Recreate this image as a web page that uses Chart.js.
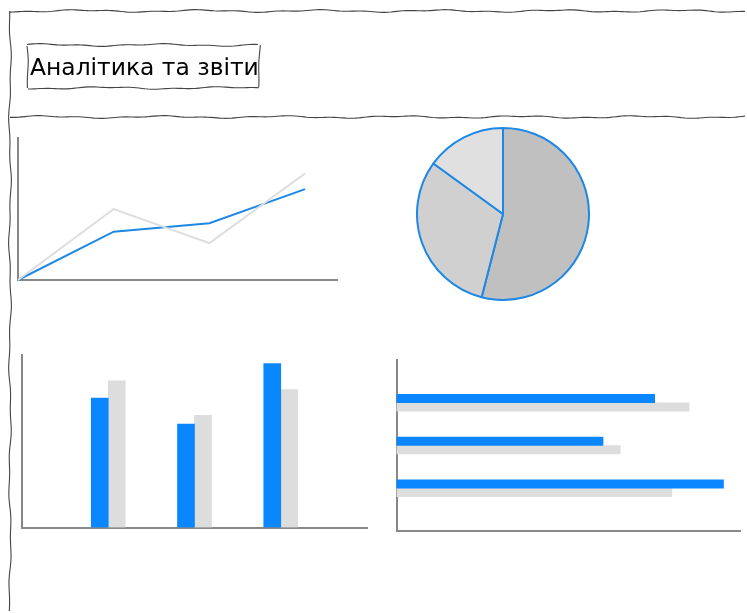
<!DOCTYPE html>
<html lang="uk">
<head>
<meta charset="utf-8">
<title>Аналітика та звіти</title>
<script src="https://cdn.jsdelivr.net/npm/chart.js@4"></script>
<style>
    html, body { margin: 0; padding: 0; background: #fff; overflow: hidden; }
    body { width: 747px; height: 613px; position: relative; }
    canvas { position: absolute; }
    #frame { left: 0; top: 0; pointer-events: none; }
    #title {
        position: absolute;
        left: 30px;
        top: 53px;
        font: 23.4px "DejaVu Sans", sans-serif;
        color: #000;
        white-space: nowrap;
    }
</style>
</head>
<body>
<canvas id="frame" width="747" height="613"></canvas>
<div id="title">Аналітика та звіти</div>
<canvas id="lineChart" width="340" height="160" style="left:8px;top:128px"></canvas>
<canvas id="pieChart" width="174" height="174" style="left:416px;top:127px"></canvas>
<canvas id="barChart" width="365" height="192" style="left:12px;top:345px"></canvas>
<canvas id="hbarChart" width="361" height="191" style="left:386px;top:350px"></canvas>

<script>
// ==================== Data ====================
const lineX = [0, 30, 60, 90];
const lineBlue = [0, 34, 40, 64];
const lineGray = [0, 50, 26, 75];

const pieValues = [54, 31, 15];
const pieColors = ["#c0c0c0", "#d0d0d0", "#e0e0e0"];

const categories = ["A", "B", "C"];
const barBlue = [75, 60, 95];
const barGray = [85, 65, 80];

const BLUE_LINE = "#1e88e5";
const BLUE_BAR = "#0a86ff";
const GRAY = "#dddddd";
const AXIS = "#888888";

// ==================== Sketchy frame ====================
const frame = document.getElementById("frame").getContext("2d");
frame.strokeStyle = "#444";
frame.lineWidth = 1.1;

function wobble(t, seed) {
    return 0.9 * Math.sin(t / 19 + seed) + 0.5 * Math.sin(t / 6.7 + seed * 2.3);
}

function sketchLine(x1, y1, x2, y2, seed) {
    const len = Math.hypot(x2 - x1, y2 - y1);
    const nx = -(y2 - y1) / len, ny = (x2 - x1) / len;
    frame.beginPath();
    for (let t = 0; t <= len; t += 3) {
        const w = wobble(t, seed);
        const x = x1 + (x2 - x1) * t / len + nx * w;
        const y = y1 + (y2 - y1) * t / len + ny * w;
        if (t === 0) frame.moveTo(x, y); else frame.lineTo(x, y);
    }
    frame.stroke();
}

sketchLine(10, 11, 747, 11, 1);
sketchLine(10, 11, 10, 613, 2);
sketchLine(10, 117, 747, 117, 3);
// title box
sketchLine(27, 45, 259, 45, 4);
sketchLine(259, 45, 259, 88, 5);
sketchLine(259, 88, 27, 88, 6);
sketchLine(27, 88, 27, 45, 7);

// ==================== Shared options ====================
const plainAxis = (extra) => Object.assign({
    display: true,
    offset: false,
    grid: { display: false, drawTicks: false, offset: false },
    ticks: { display: false },
    border: { display: true, color: AXIS, width: 2 }
}, extra);

const basePlugins = { legend: { display: false }, tooltip: { enabled: false } };

// ==================== Line chart ====================
new Chart(document.getElementById("lineChart"), {
    type: "line",
    data: {
        datasets: [
            {
                data: lineX.map((x, i) => ({ x: x, y: lineGray[i] })),
                borderColor: GRAY,
                borderWidth: 2,
                pointRadius: 0,
                tension: 0
            },
            {
                data: lineX.map((x, i) => ({ x: x, y: lineBlue[i] })),
                borderColor: BLUE_LINE,
                borderWidth: 2,
                pointRadius: 0,
                tension: 0
            }
        ]
    },
    options: {
        responsive: false,
        animation: false,
        clip: false,
        layout: { autoPadding: false, padding: { left: 10, top: 10, right: 11, bottom: 8 } },
        plugins: basePlugins,
        scales: {
            x: plainAxis({ type: "linear", min: 0, max: 100 }),
            y: plainAxis({ type: "linear", min: 0, max: 100 })
        }
    }
});

// ==================== Pie chart ====================
new Chart(document.getElementById("pieChart"), {
    type: "pie",
    data: {
        labels: ["1", "2", "3"],
        datasets: [{
            data: pieValues,
            backgroundColor: pieColors,
            borderColor: BLUE_LINE,
            borderWidth: 2
        }]
    },
    options: {
        responsive: false,
        animation: false,
        layout: { padding: 0 },
        plugins: basePlugins
    }
});

// ==================== Vertical bar chart ====================
new Chart(document.getElementById("barChart"), {
    type: "bar",
    data: {
        datasets: [
            { data: categories.map((c, i) => ({ x: i + 1, y: barBlue[i] })), backgroundColor: BLUE_BAR, barThickness: 17 },
            { data: categories.map((c, i) => ({ x: i + 1, y: barGray[i] })), backgroundColor: GRAY, barThickness: 17 }
        ]
    },
    options: {
        responsive: false,
        animation: false,
        layout: { autoPadding: false, padding: { left: 10, top: 10, right: 10, bottom: 9.5 } },
        plugins: basePlugins,
        scales: {
            x: plainAxis({ type: "linear", min: 0, max: categories.length + 1 }),
            y: plainAxis({ type: "linear", min: 0, max: 100 })
        }
    }
});

// ==================== Horizontal bar chart ====================
new Chart(document.getElementById("hbarChart"), {
    type: "bar",
    data: {
        datasets: [
            { data: categories.map((c, i) => ({ y: i + 1, x: barBlue[i] })), backgroundColor: BLUE_BAR, barThickness: 8.5 },
            { data: categories.map((c, i) => ({ y: i + 1, x: barGray[i] })), backgroundColor: GRAY, barThickness: 8.5 }
        ]
    },
    options: {
        indexAxis: "y",
        responsive: false,
        animation: false,
        layout: { autoPadding: false, padding: { left: 10.5, top: 10, right: 6.3, bottom: 10 } },
        plugins: basePlugins,
        scales: {
            x: plainAxis({ type: "linear", min: 0, max: 100 }),
            y: plainAxis({ type: "linear", min: 0, max: categories.length + 1, reverse: true })
        }
    }
});
</script>
</body>
</html>
